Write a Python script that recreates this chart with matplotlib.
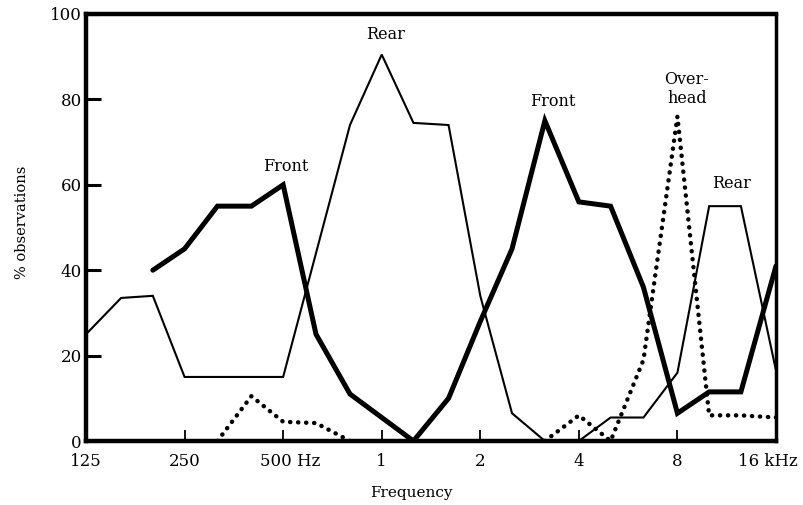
import matplotlib
matplotlib.use('Agg')
import matplotlib.pyplot as plt
import matplotlib.transforms as mtransforms
import numpy as np

# third-octave band centres (Hz)
bands = [125, 160, 200, 250, 315, 400, 500, 630, 800, 1000, 1250, 1600,
         2000, 2500, 3150, 4000, 5000, 6300, 8000, 10000, 12500, 16000]

# % observations per band (nan = not drawn)
front = [np.nan, np.nan, 40, 45, 55, 55, 60, 25, 11, 5.5, 0, 10,
         28, 45, 75, 56, 55, 36, 6.5, 11.5, 11.5, 41]
rear = [25, 33.5, 34, 15, 15, 15, 15, 44, 74, 90.5, 74.5, 74,
        34, 6.5, 0, 0, 5.5, 5.5, 16, 55, 55, 16.5]
overhead = [np.nan, np.nan, np.nan, np.nan, 0, 10.5, 4.5, 4.2, 0, np.nan, np.nan, np.nan,
            np.nan, np.nan, 0, 6, 0, 19, 76, 6, 6, 5.5]

tick_freqs = [125, 250, 500, 1000, 2000, 4000, 8000, 16000]
tick_labels = ['125', '250', '500 Hz', '1', '2', '4', '8', '16 kHz']
y_ticks = [0, 20, 40, 60, 80, 100]

# peak labels: (text, frequency, value)
peak_labels = [('Front', 510, 64.4), ('Rear', 1030, 95.1), ('Front', 3340, 79.6),
               ('Over-\nhead', 8550, 82.5), ('Rear', 11700, 60.2)]

plt.rcParams['font.family'] = 'DejaVu Serif'

fig = plt.figure(figsize=(8.04, 5.05), dpi=100)
ax = fig.add_axes([86 / 804, 64 / 505, 690 / 804, 427 / 505])

ax.plot(bands, rear, color='black', lw=1.5, solid_joinstyle='miter')
ax.plot(bands, front, color='black', lw=3.6, solid_joinstyle='miter', solid_capstyle='round')
ax.plot(bands, overhead, color='black', lw=3.2, linestyle=(0, (0.05, 1.75)),
        dash_capstyle='round')

ax.set_xscale('log', base=2)
ax.set_xlim(125, 16000)
ax.set_ylim(0, 100)
ax.set_xticks(tick_freqs)
ax.set_xticklabels(tick_labels)
ax.minorticks_off()
ax.set_yticks(y_ticks)

for side in ['left', 'bottom', 'top']:
    ax.spines[side].set_linewidth(3.2)
ax.spines['right'].set_linewidth(2.5)

ax.tick_params(axis='x', direction='in', length=8, width=1.3, pad=9, labelsize=12)
ax.tick_params(axis='y', direction='in', length=11, width=2.2, pad=3, labelsize=12)

# shift the unit-bearing labels like the original
offsets = {'500 Hz': 7, '16 kHz': -8}
for lab in ax.get_xticklabels():
    dx = offsets.get(lab.get_text())
    if dx:
        lab.set_transform(lab.get_transform() + mtransforms.ScaledTranslation(dx / 100, 0, fig.dpi_scale_trans))

for text, f, v in peak_labels:
    ax.text(f, v, text, ha='center', va='center', fontsize=11.5, linespacing=1.15)

ax.set_xlabel('Frequency', fontsize=11)
ax.xaxis.set_label_coords(0.472, -0.105)
ax.set_ylabel('% observations', fontsize=10.5)
ax.yaxis.set_label_coords(-0.083, 0.513)

fig.savefig('out.png', dpi=100)
